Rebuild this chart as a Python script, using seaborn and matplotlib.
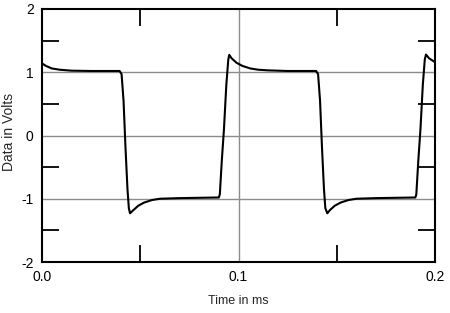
import matplotlib
matplotlib.use("Agg")
import matplotlib.pyplot as plt
import seaborn as sns
import pandas as pd
from matplotlib.ticker import FixedLocator

# Data
time_ms = [0.000, 0.002, 0.005, 0.009, 0.015, 0.025, 0.035, 0.0395,
           0.0405, 0.0415, 0.0425, 0.0435, 0.0442, 0.0448, 0.0465, 0.0490, 0.0520,
           0.0560, 0.0600, 0.0700, 0.0800, 0.0900,
           0.0905, 0.0915, 0.0926, 0.0938, 0.0948, 0.0953, 0.0965, 0.0990,
           0.1020, 0.1060, 0.1100, 0.1150, 0.1250, 0.1395,
           0.1405, 0.1415, 0.1425, 0.1435, 0.1442, 0.1452, 0.1465, 0.1490, 0.1520,
           0.1560, 0.1600, 0.1700, 0.1900,
           0.1905, 0.1915, 0.1926, 0.1938, 0.1948, 0.1954, 0.1970, 0.2000]
volts = [1.14, 1.10, 1.06, 1.04, 1.025, 1.02, 1.02, 1.02,
         0.97, 0.55, -0.20, -0.85, -1.15, -1.23, -1.18, -1.11, -1.06,
         -1.02, -1.00, -0.99, -0.985, -0.98,
         -0.93, -0.40, 0.10, 0.80, 1.20, 1.275, 1.22, 1.15,
         1.10, 1.06, 1.04, 1.03, 1.02, 1.02,
         0.97, 0.55, -0.20, -0.85, -1.15, -1.23, -1.18, -1.11, -1.06,
         -1.02, -1.00, -0.99, -0.98,
         -0.93, -0.40, 0.10, 0.80, 1.20, 1.28, 1.22, 1.16]

x_ticks = [0.0, 0.1, 0.2]
x_tick_labels = ["0.0", "0.1", "0.2"]
y_ticks = [-2, -1, 0, 1, 2]
y_tick_labels = ["-2", "-1", "0", "1", "2"]

sns.set_style("white")
plt.rcParams["font.family"] = ["Liberation Sans", "DejaVu Sans"]

df = pd.DataFrame({"t": time_ms, "v": volts})

fig = plt.figure(figsize=(4.5, 3.13), dpi=100)
ax = fig.add_axes([42/450, 1 - 262/313, (435-42)/450, (262-9)/313])

sns.lineplot(data=df, x="t", y="v", ax=ax, color="black", linewidth=1.5,
             sort=False, estimator=None, zorder=3)

ax.set_xlim(0, 0.2)
ax.set_ylim(-2, 2)

# grid lines
for yv in [-1, 0, 1]:
    ax.axhline(yv, color="#8c8c8c", linewidth=1.0, zorder=1)
ax.axvline(0.1, color="#8c8c8c", linewidth=1.0, zorder=1)

ax.set_xticks(x_ticks)
ax.set_xticklabels(x_tick_labels)
ax.set_yticks(y_ticks)
ax.set_yticklabels(y_tick_labels)
ax.tick_params(axis="both", which="major", length=0, labelsize=10, pad=6,
               colors="black")
ax.yaxis.set_minor_locator(FixedLocator([-1.5, -0.5, 0.5, 1.5]))
ax.xaxis.set_minor_locator(FixedLocator([0.05, 0.15]))
ax.tick_params(axis="both", which="minor", direction="in", length=12,
               width=1.3, color="black", left=True, right=True,
               top=True, bottom=True)

for s in ax.spines.values():
    s.set_color("black")
    s.set_linewidth(1.5)
    s.set_visible(True)

ax.set_xlabel("Time in ms", fontsize=9, labelpad=8)
ax.set_ylabel("Data in Volts", fontsize=10)
ax.yaxis.set_label_coords(-0.066, 0.515)

fig.savefig("out.png", dpi=100)
